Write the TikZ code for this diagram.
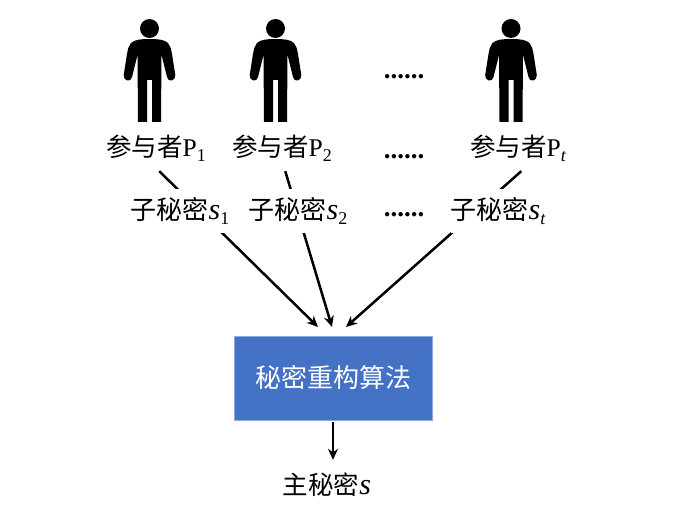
\documentclass[tikz,border=0pt]{standalone}
\usepackage{amsmath}
\usepackage{fontspec}
\setmainfont{Liberation Serif}
\newfontfamily\cjk{Noto Sans CJK SC}
\usetikzlibrary{arrows.meta,positioning}
\pgfdeclarelayer{background}
\pgfsetlayers{background,main}
\definecolor{boxblue}{HTML}{4472C4}
\newcommand{\Sub}[1]{\raisebox{-5pt}{\fontsize{18}{18}\selectfont\rmfamily #1}}
\newcommand{\Pname}[1]{\cjk 参与者\rmfamily P\Sub{#1}}
\newcommand{\Sname}[1]{\cjk 子秘密{\rmfamily\itshape\fontsize{30}{28}\selectfont s}\Sub{#1}}
\tikzset{
	person/.pic={
		\fill (0, 28.5) circle (9.5);
		\fill (0, 39) .. controls (8, 39) and (15, 39.5) .. (18.5, 43)
			.. controls (21, 46) and (21.5, 49) .. (22.5, 54)
			-- (25.8, 75) .. controls (26.5, 81) and (18.5, 83) .. (17.5, 77)
			-- (12, 55) -- (11.5, 122) -- (2.5, 122) -- (2.5, 80)
			-- (-2.5, 80) -- (-2.5, 122) -- (-11.5, 122) -- (-12, 55)
			-- (-17.5, 77) .. controls (-18.5, 83) and (-26.5, 81) .. (-25.8, 75)
			-- (-22.5, 54) .. controls (-21.5, 49) and (-21, 46) .. (-18.5, 43)
			.. controls (-15, 39.5) and (-8, 39) .. (0, 39) -- cycle;
	},
	label/.style={font=\fontsize{25.5}{28}\selectfont, text height=22pt, text depth=4pt, minimum height=46pt, inner xsep=0pt},
	share/.style={font=\fontsize{26}{28}\selectfont, text height=22pt, text depth=4pt, fill=white, minimum height=44pt, inner xsep=0pt},
	dots/.style={font=\fontsize{27}{28}\selectfont\bfseries, inner sep=0pt},
	algo/.style={fill=boxblue, draw=boxblue!60!white, line width=0.8pt, minimum width=198pt, minimum height=84pt,
		text=white, font=\fontsize{26}{28}\selectfont\cjk},
	link/.style={line width=2.5pt, -{Stealth[length=11pt,width=10pt]}}
}
\begin{document}
\begin{tikzpicture}[x=1pt, y=-1pt]
	\useasboundingbox (0, 0) rectangle (688, 508);

	\pic at (149.5, 0) {person};
	\pic at (275.5, 0) {person};
	\pic at (511, 0) {person};
	\node[dots] (dotsA) at (404, 77) {......};

	\node[label] (p1) at (156, 148) {\Pname{1}};
	\node[label] (p2) at (282, 148) {\Pname{2}};
	\node[label] (pt) at (518, 148) {\Pname{\itshape t}};
	\node[dots] (dotsB) at (404, 157) {......};

	\node[share] (s1) at (180, 210.5) {\Sname{1}};
	\node[share] (s2) at (298, 210.5) {\Sname{2}};
	\node[share] (st) at (498, 210.5) {\Sname{\itshape t}};
	\node[dots] (dotsC) at (404, 215) {......};

	\node[algo] (box) at (333, 378) {秘密重构算法};
	\node[label, minimum height=50pt] (main) at (327, 485) {\cjk 主秘密\rmfamily\itshape\fontsize{30}{28}\selectfont s};

	\coordinate (b1) at (318, 327);
	\coordinate (b2) at (332, 327);
	\coordinate (b3) at (346, 327);

	\begin{pgfonlayer}{background}
		\draw[link] (p1.-82) -- (b1);
		\draw[link] (p2.-82) -- (b2);
		\draw[link] (pt.-82) -- (b3);
	\end{pgfonlayer}
	\draw[link, shorten <=2pt] (box.south) -- (box.south |- main.north);
\end{tikzpicture}
\end{document}
